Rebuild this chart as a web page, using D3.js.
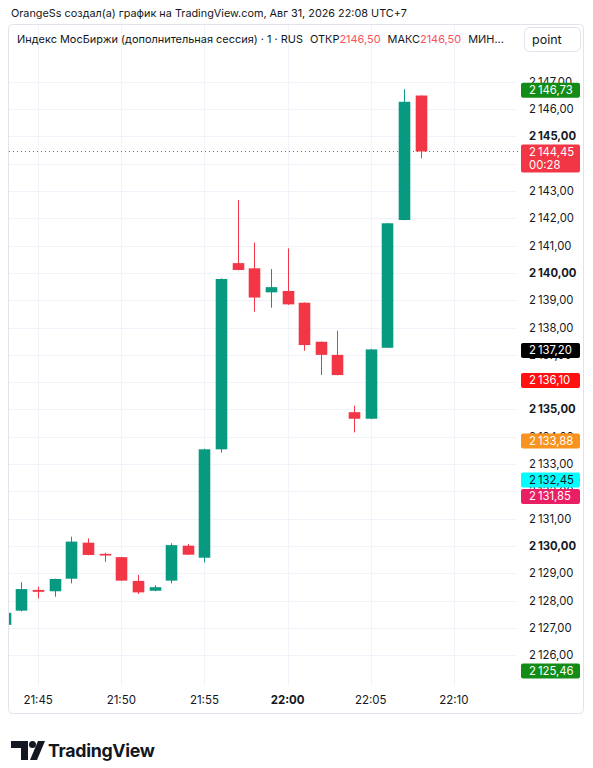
<!DOCTYPE html>
<html><head><meta charset="utf-8">
<script src="https://cdn.jsdelivr.net/npm/d3@7"></script>
<style>
body{margin:0;background:#fff}
svg{display:block}
text{font-family:Inter,"Noto Sans",sans-serif}
</style>
</head><body>
<svg id="c" width="593" height="768"></svg>
<script>
// ---- data ----
const times  = ["21:43","21:44","21:45","21:46","21:47","21:48","21:49","21:50","21:51","21:52","21:53","21:54","21:55","21:56","21:57","21:58","21:59","22:00","22:01","22:02","22:03","22:04","22:05","22:06","22:07","22:08"];
const opens  = [2127.11,2127.63,2128.39,2128.34,2128.80,2130.12,2129.71,2129.59,2128.72,2128.36,2128.73,2130.01,2129.57,2133.54,2140.36,2140.17,2139.29,2139.34,2138.91,2137.48,2137.00,2134.90,2134.66,2137.26,2141.94,2146.50];
const highs  = [2127.60,2128.67,2128.51,2128.80,2130.34,2130.28,2129.75,2129.60,2128.94,2128.56,2130.10,2130.07,2133.56,2139.80,2142.67,2141.11,2140.14,2140.90,2138.92,2137.49,2137.88,2135.14,2137.22,2141.83,2146.73,2146.50];
const lows   = [2127.05,2127.60,2128.08,2128.14,2128.63,2129.66,2129.42,2128.72,2128.24,2128.34,2128.63,2129.67,2129.40,2133.42,2140.10,2138.58,2138.73,2138.83,2137.15,2136.26,2136.25,2134.16,2134.65,2137.25,2141.93,2144.20];
const closes = [2127.55,2128.42,2128.32,2128.79,2130.16,2129.67,2129.65,2128.73,2128.30,2128.49,2130.03,2129.68,2133.54,2139.78,2140.11,2139.10,2139.48,2138.85,2137.36,2137.00,2136.26,2134.66,2137.20,2141.82,2146.27,2144.45];
const timeTicks  = ["21:45","21:50","21:55","22:00","22:05","22:10"];
const priceTicks = [2126,2127,2128,2129,2130,2131,2132,2133,2134,2135,2136,2137,2138,2139,2140,2141,2142,2143,2144,2145,2146,2147];
const markerValues = [2146.73, 2137.20, 2136.10, 2133.88, 2132.45, 2131.85, 2125.46];
const countdown = "00:28";
const headerText = "OrangeSs создал(а) график на TradingView.com, Авг 31, 2026 22:08 UTC+7";
const symbolText = "Индекс МосБиржи (дополнительная сессия) · 1 · RUS";

// ---- styles ----
const markerFill = ["#138c17","#000000","#ff1111","#f7931e","#00ffff","#e91e63","#138c17"];
const markerText = ["#ffffff","#ffffff","#ffffff","#ffffff","#131722","#ffffff","#ffffff"];
const UP = "#089981", DOWN = "#f23645", GRID = "#f0f3fa", TXT = "#131722";

const svg = d3.select("#c");
const day = s => { const [h,m] = s.split(":").map(Number); return new Date(2026,7,31,h,m); };
const plot = {l:9, r:516, t:24, b:686};

const x = d3.scaleTime()
  .domain([new Date(2026,7,31,21,43,15), new Date(2026,7,31,22,13,44)])
  .range([plot.l, plot.r]);
const y = d3.scaleLinear().domain([2124.87, 2149.12]).range([plot.b, plot.t]);

const loc = d3.formatLocale({decimal:",", thousands:"\u2009", grouping:[3], currency:["",""]});
const fAxis = loc.format(",.2f");
const fPlain = loc.format(".2f");

function fit(sel, w){
  const n = sel.node(); const cur = n.getComputedTextLength();
  const fs = parseFloat(sel.attr("font-size"));
  sel.attr("font-size", (fs*w/cur).toFixed(2));
}

// header
const ht = svg.append("text").attr("x",11).attr("y",17).attr("font-size",12).attr("fill",TXT).text(headerText);
fit(ht, 396);

// frame
svg.append("rect").attr("x",8.5).attr("y",24.5).attr("width",575).attr("height",689)
  .attr("rx",4).attr("fill","none").attr("stroke","#e0e3eb");

// grid
svg.append("g").selectAll("line").data(priceTicks).join("line")
  .attr("x1",plot.l).attr("x2",plot.r)
  .attr("y1",d=>Math.round(y(d))+0.5).attr("y2",d=>Math.round(y(d))+0.5)
  .attr("stroke",GRID);
svg.append("g").selectAll("line").data(timeTicks).join("line")
  .attr("x1",d=>Math.round(x(day(d)))+0.5).attr("x2",d=>Math.round(x(day(d)))+0.5)
  .attr("y1",plot.t+1).attr("y2",plot.b)
  .attr("stroke",GRID);

// candles
svg.append("clipPath").attr("id","clip").append("rect")
  .attr("x",plot.l).attr("y",plot.t).attr("width",plot.r-plot.l).attr("height",plot.b-plot.t);
const data = times.map((t,i)=>({t:day(t),o:opens[i],h:highs[i],l:lows[i],c:closes[i]}));
const bw = 11.6;
const cg = svg.append("g").attr("clip-path","url(#clip)");
const cand = cg.selectAll("g").data(data).join("g");
cand.append("line")
  .attr("x1",d=>Math.round(x(d.t))+0.5).attr("x2",d=>Math.round(x(d.t))+0.5)
  .attr("y1",d=>y(d.h)).attr("y2",d=>y(d.l))
  .attr("stroke",d=>d.c>=d.o?UP:DOWN).attr("stroke-width",1);
cand.append("rect")
  .attr("x",d=>Math.round(x(d.t))+0.5-bw/2).attr("width",bw)
  .attr("y",d=>y(Math.max(d.o,d.c)))
  .attr("height",d=>Math.max(1.2, Math.abs(y(d.o)-y(d.c))))
  .attr("fill",d=>d.c>=d.o?UP:DOWN);

// last price line
const last = closes[closes.length-1];
svg.append("line").attr("x1",plot.l).attr("x2",521)
  .attr("y1",Math.round(y(last))+0.5).attr("y2",Math.round(y(last))+0.5)
  .attr("stroke",DOWN).attr("stroke-dasharray","1,3");

// legend
const gap = 7;
const lg = svg.append("text").attr("x",17).attr("y",43).attr("font-size",11.5).attr("fill",TXT);
lg.append("tspan").text(symbolText);
lg.append("tspan").attr("dx",gap).text("ОТКР");
lg.append("tspan").attr("fill","#f7525f").text(fPlain(opens[opens.length-1]));
lg.append("tspan").attr("dx",gap).text("МАКС");
lg.append("tspan").attr("fill","#f7525f").text(fPlain(highs[highs.length-1]));
lg.append("tspan").attr("dx",gap).text("МИН...");
fit(lg, 487 - 3*gap);

// point button
svg.append("rect").attr("x",524.5).attr("y",27.5).attr("width",56).attr("height",24).attr("rx",5)
  .attr("fill","#fff").attr("stroke","#e0e3eb");
svg.append("text").attr("x",532).attr("y",43.5).attr("font-size",12.5).attr("fill",TXT).text("point");

// label boxes (value-axis badges)
const boxTop = v => y(v) - 6.5, boxH = 15;
const lastTop = y(last) - 7, lastH = 28;
const boxes = markerValues.map(v => [boxTop(v), boxTop(v)+boxH]).concat([[lastTop, lastTop+lastH]]);
const covered = t => {
  const a = y(t)-4.5, b = y(t)+4.5;
  return boxes.some(([p,q]) => (Math.min(b,q)-Math.max(a,p))/9 > 0.9);
};

// price axis ticks
svg.append("g").selectAll("text").data(priceTicks.filter(t=>!covered(t))).join("text")
  .attr("x",529).attr("y",d=>y(d)+4)
  .attr("font-size",11.3)
  .attr("font-weight",d=>d%5===0?700:400)
  .attr("fill",TXT).text(d=>fAxis(d));

// markers
const mg = svg.append("g").selectAll("g").data(markerValues).join("g");
mg.append("rect").attr("x",521).attr("width",59).attr("height",boxH).attr("rx",2)
  .attr("y",d=>boxTop(d)).attr("fill",(d,i)=>markerFill[i]);
mg.append("text").attr("x",529).attr("y",d=>y(d)+5).attr("font-size",11.3)
  .attr("fill",(d,i)=>markerText[i]).text(d=>fAxis(d));

// last price label
svg.append("rect").attr("x",521).attr("y",lastTop).attr("width",59).attr("height",lastH).attr("rx",2).attr("fill",DOWN);
svg.append("text").attr("x",529).attr("y",y(last)+5).attr("font-size",11.3).attr("fill","#fff").text(fAxis(last));
svg.append("text").attr("x",529).attr("y",y(last)+18).attr("font-size",11.3).attr("fill","#fff").text(countdown);

// time axis
svg.append("g").selectAll("text").data(timeTicks).join("text")
  .attr("x",d=>x(day(d))).attr("y",704).attr("text-anchor","middle")
  .attr("font-size",11.5).attr("font-weight",d=>d==="22:00"?700:400)
  .attr("fill",TXT).text(d=>d);

// logo
const logo = svg.append("g").attr("fill","#131722");
logo.append("path").attr("d","M11,741 H28 V760 H21 V748 H11 Z");
logo.append("circle").attr("cx",32.5).attr("cy",744.5).attr("r",3.5);
logo.append("path").attr("d","M38,741 H45 L37,760 H30 Z");
const lt = svg.append("text").attr("x",48).attr("y",757).attr("font-size",19).attr("font-weight",700)
  .attr("fill","#131722").attr("letter-spacing",-0.3).text("TradingView");
fit(lt, 107);
</script>
</body></html>
